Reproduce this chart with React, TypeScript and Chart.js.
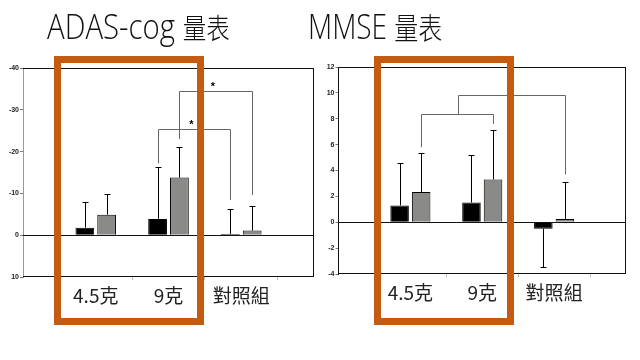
import React, { useEffect, useRef } from 'react';
import { Chart, registerables } from 'chart.js';

Chart.register(...registerables);

// ---------- data ----------
const categories = ['', '4.5克', '9克', '對照組', ''];

// ADAS-cog (reversed axis: negative = improvement)
const adasBlack = [null, -1.8, -3.9, -0.3, null];
const adasGray = [null, -4.9, -13.8, -1.1, null];
const adasBlackErr = [0, 6.2, 12.3, 6.0, 0];
const adasGrayErr = [0, 5.0, 7.4, 6.0, 0];
const adasMin = -40;
const adasMax = 10;
const adasStep = 10;
// brackets: from/to refer to [datasetIndex, categoryIndex]
const adasBrackets = [
  { from: [0, 2], to: [0, 3], top: -25.4, leftEnd: -17.2, rightEnd: -8.4, star: true },
  { from: [1, 2], to: [1, 3], top: -34.4, leftEnd: -23.0, rightEnd: -9.6, star: true },
];

// MMSE
const mmseBlack = [null, 1.3, 1.53, -0.5, null];
const mmseGray = [null, 2.33, 3.31, 0.25, null];
const mmseBlackErr = [0, 3.25, 3.65, 2.93, 0];
const mmseGrayErr = [0, 3.04, 3.83, 2.88, 0];
const mmseMin = -4;
const mmseMax = 12;
const mmseStep = 2;
const mmseBrackets = [
  { from: [1, 1], to: [1, 2], top: 8.34, leftEnd: 5.8, rightEnd: 7.6, star: false },
  { fromBracket: 0, to: [1, 3], top: 9.8, leftEnd: 8.34, rightEnd: 3.7, star: true },
];

const seriesNames = ['組別一', '組別二'];

// ---------- overlay plugin ----------
const overlayPlugin = {
  id: 'overlay',
  afterDatasetsDraw(chart: any, _args: any, opts: any) {
    const { ctx, chartArea: a } = chart;
    const y = chart.scales.y;
    const line = (x1: number, y1: number, x2: number, y2: number) => {
      ctx.beginPath();
      ctx.moveTo(x1, y1);
      ctx.lineTo(x2, y2);
      ctx.stroke();
    };
    ctx.save();
    ctx.lineWidth = 1;
    // frame (top, right, bottom)
    ctx.strokeStyle = '#111';
    line(a.left, a.top + 0.5, a.right, a.top + 0.5);
    line(a.right - 0.5, a.top, a.right - 0.5, a.bottom);
    line(a.left, a.bottom - 0.5, a.right, a.bottom - 0.5);
    // zero line
    const y0 = Math.round(y.getPixelForValue(0)) + 0.5;
    line(a.left, y0, a.right, y0);

    // error bars
    ctx.strokeStyle = '#000';
    chart.data.datasets.forEach((ds: any, di: number) => {
      const meta = chart.getDatasetMeta(di);
      const errs = opts.errors[di];
      meta.data.forEach((el: any, i: number) => {
        const v = ds.data[i];
        if (v == null) return;
        const sign = v < 0 ? -1 : 1;
        const yEnd = Math.round(y.getPixelForValue(v + sign * errs[i])) + 0.5;
        const x = Math.round(el.x) + 0.5;
        line(x, el.y, x, yEnd);
        line(x - 3, yEnd, x + 3, yEnd);
      });
    });

    // brackets
    ctx.strokeStyle = '#666';
    const xs: number[][] = [];
    const barX = (ref: number[]) => chart.getDatasetMeta(ref[0]).data[ref[1]].x;
    (opts.brackets || []).forEach((b: any, k: number) => {
      const x1 = Math.round(b.fromBracket != null ? (xs[b.fromBracket][0] + xs[b.fromBracket][1]) / 2 : barX(b.from)) + 0.5;
      const x2 = Math.round(barX(b.to)) + 0.5;
      xs[k] = [x1, x2];
      const yt = Math.round(y.getPixelForValue(b.top)) + 0.5;
      const yl = y.getPixelForValue(b.leftEnd);
      const yr = y.getPixelForValue(b.rightEnd);
      line(x1, yl, x1, yt);
      line(x1, yt, x2, yt);
      line(x2, yt, x2, yr);
      if (b.star) {
        ctx.fillStyle = '#000';
        ctx.font = 'bold 11px "Liberation Sans", Arial';
        ctx.textAlign = 'center';
        ctx.textBaseline = 'alphabetic';
        ctx.fillText('*', (x1 + x2) / 2 - 3, yt - 2);
      }
    });
    ctx.restore();
  },
};

type PanelCfg = {
  black: (number | null)[];
  gray: (number | null)[];
  blackErr: number[];
  grayErr: number[];
  min: number;
  max: number;
  step: number;
  reverse: boolean;
  brackets: any[];
  yWidth: number;
  padding: { top: number; right: number; bottom: number; left: number };
  yBorderColor: string;
};

function Panel({ cfg, left }: { cfg: PanelCfg; left: number }) {
  const ref = useRef<HTMLCanvasElement | null>(null);
  useEffect(() => {
    if (!ref.current) return;
    const chart = new Chart(ref.current, {
      type: 'bar',
      data: {
        labels: categories,
        datasets: [
          {
            label: seriesNames[0],
            data: cfg.black,
            backgroundColor: '#000000',
            borderColor: '#000000',
            borderWidth: 1,
          },
          {
            label: seriesNames[1],
            data: cfg.gray,
            backgroundColor: '#8a8a88',
            borderColor: '#000000',
            borderWidth: 1,
          },
        ] as any,
      },
      options: {
        animation: false,
        responsive: false,
        devicePixelRatio: 1,
        layout: { padding: cfg.padding },
        datasets: { bar: { categoryPercentage: 0.6, barPercentage: 0.86 } },
        plugins: {
          legend: { display: false },
          tooltip: { enabled: false },
          title: { display: false },
          overlay: { errors: [cfg.blackErr, cfg.grayErr], brackets: cfg.brackets },
        } as any,
        scales: {
          x: {
            type: 'category',
            offset: false,
            grid: { display: true, drawOnChartArea: false, drawTicks: true, tickLength: 3, color: '#bbb' },
            border: { display: false },
            ticks: {
              autoSkip: false,
              maxRotation: 0,
              padding: 4,
              color: '#222',
              font: { family: '"Noto Sans CJK TC", "Open Sans", sans-serif', size: 19 },
            },
            afterFit: (s: any) => {
              s.height = 40;
            },
          },
          y: {
            type: 'linear',
            min: cfg.min,
            max: cfg.max,
            reverse: cfg.reverse,
            grid: { display: true, drawOnChartArea: false, drawTicks: true, tickLength: 3, color: '#777' },
            border: { display: true, color: cfg.yBorderColor, width: 1 },
            ticks: {
              stepSize: cfg.step,
              padding: 1,
              color: '#222',
              font: { family: '"Liberation Sans", Arial, sans-serif', size: 7, weight: 'bold' },
            },
            afterFit: (s: any) => {
              s.width = cfg.yWidth;
            },
          },
        },
      } as any,
      plugins: [overlayPlugin as any],
    });
    return () => chart.destroy();
  }, []);
  return (
    <canvas
      ref={ref}
      width={320}
      height={360}
      style={{ position: 'absolute', left, top: 0, width: 320, height: 360 }}
    />
  );
}

const titleStyle: React.CSSProperties = {
  position: 'absolute',
  top: 2,
  fontFamily: '"Open Sans", "Noto Sans CJK TC", sans-serif',
  fontWeight: 300,
  fontSize: 35,
  lineHeight: '48px',
  color: '#111',
  whiteSpace: 'nowrap',
  transformOrigin: 'left top',
};

const cjkStyle: React.CSSProperties = {
  fontFamily: '"Noto Sans CJK TC", sans-serif',
  fontWeight: 300,
  fontSize: 28,
};

const boxStyle = (left: number, width: number): React.CSSProperties => ({
  position: 'absolute',
  left,
  top: 56,
  width,
  height: 269,
  border: '7.5px solid #C55A11',
  boxSizing: 'border-box',
  pointerEvents: 'none',
});

export default function App() {
  const adasCfg: PanelCfg = {
    black: adasBlack,
    gray: adasGray,
    blackErr: adasBlackErr,
    grayErr: adasGrayErr,
    min: adasMin,
    max: adasMax,
    step: adasStep,
    reverse: true,
    brackets: adasBrackets,
    yWidth: 23,
    padding: { top: 68, right: 6, bottom: 43, left: 0 },
    yBorderColor: '#999',
  };
  const mmseCfg: PanelCfg = {
    black: mmseBlack,
    gray: mmseGray,
    blackErr: mmseBlackErr,
    grayErr: mmseGrayErr,
    min: mmseMin,
    max: mmseMax,
    step: mmseStep,
    reverse: false,
    brackets: mmseBrackets,
    yWidth: 18.5,
    padding: { top: 67, right: 14, bottom: 46, left: 0 },
    yBorderColor: '#111',
  };
  return (
    <div style={{ position: 'fixed', left: 0, top: 0, width: 640, height: 360, background: '#fff', overflow: 'hidden' }}>
      <Panel cfg={adasCfg} left={0} />
      <Panel cfg={mmseCfg} left={320} />
      <div style={{ ...titleStyle, left: 47, transform: 'scaleX(0.84)' }}>
        ADAS-cog <span style={cjkStyle}>量表</span>
      </div>
      <div style={{ ...titleStyle, left: 308, transform: 'scaleX(0.8)' }}>
        MMSE <span style={{ ...cjkStyle, fontSize: 30 }}>量表</span>
      </div>
      <div style={boxStyle(54, 150)} />
      <div style={boxStyle(374, 140)} />
    </div>
  );
}
